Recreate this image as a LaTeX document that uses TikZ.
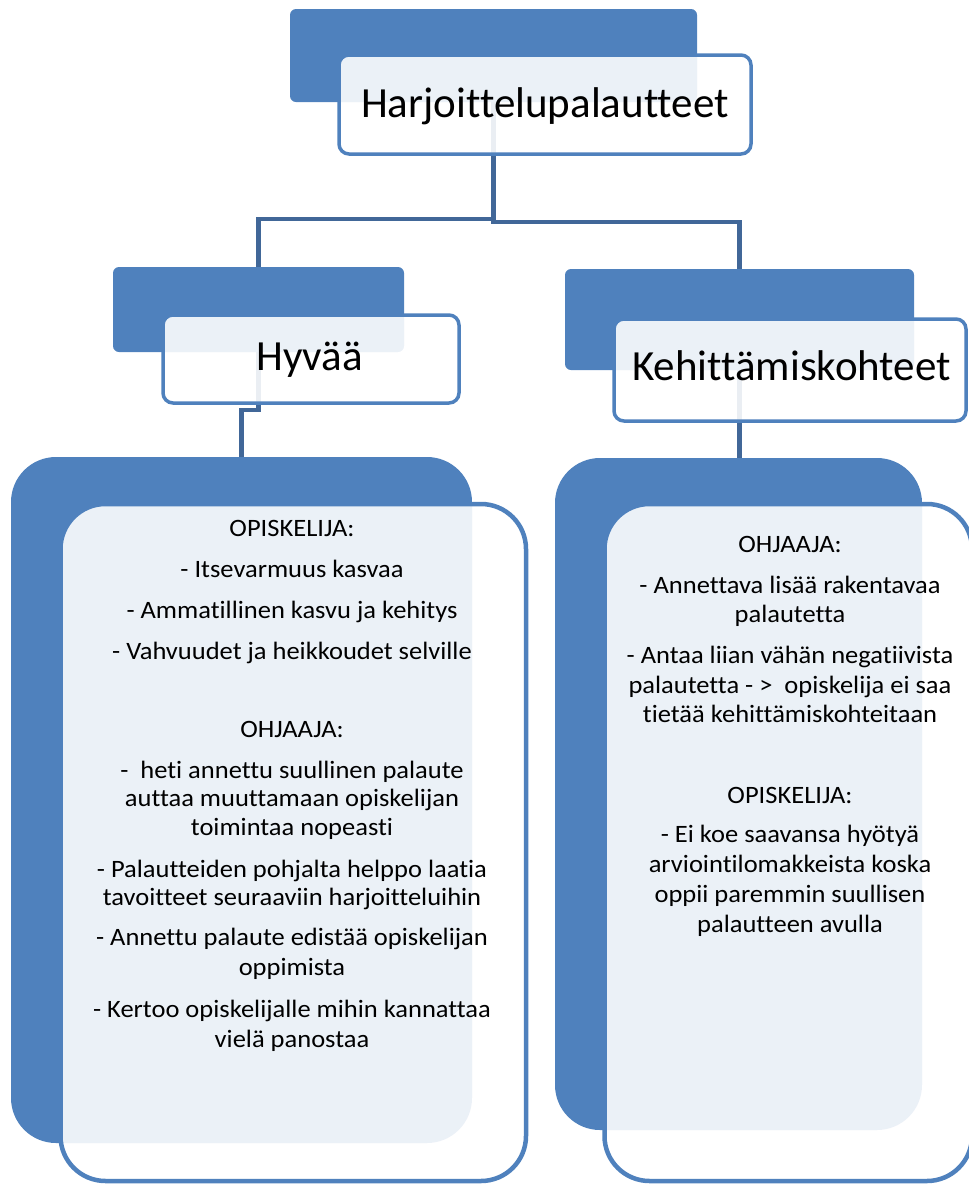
\documentclass[tikz,border=0pt]{standalone}
\usepackage{fontspec}
\setmainfont{Carlito}[Ligatures=NoCommon]
\newfontfamily\bodyfont{Carlito}[Ligatures=NoCommon, FakeStretch=1.06]
\definecolor{accent}{RGB}{79,129,189}
\definecolor{linkcol}{RGB}{65,103,152}
\begin{document}
\begin{tikzpicture}[x=1pt,y=-1pt,
  backbox/.style={draw=none, fill=accent, rectangle, inner sep=0pt},
  frontbox/.style={draw=accent, fill=white, fill opacity=0.89, draw opacity=1, rectangle, inner sep=0pt},
  linkline/.style={draw=linkcol, line width=4.5pt},
  bodytext/.style={font=\bodyfont\fontsize{25}{30}\selectfont, anchor=base, inner sep=0pt},
  headtext/.style={anchor=base, inner sep=0pt, font=\fontsize{43}{50}\selectfont},
  ]
\useasboundingbox (0,0) rectangle (969,1184);
\clip (0,0) rectangle (969,1184);
% back boxes
\node[backbox, minimum width=407pt, minimum height=93pt, rounded corners=6pt] (topback) at (493.5,55.5) {};
\node[backbox, minimum width=291pt, minimum height=85pt, rounded corners=6pt] (hyback) at (258.5,309.5) {};
\node[backbox, minimum width=349pt, minimum height=101pt, rounded corners=6pt] (kback) at (739.5,319.5) {};
\node[backbox, minimum width=461pt, minimum height=686pt, rounded corners=45pt] (leftback) at (241.5,800) {};
\node[backbox, minimum width=367pt, minimum height=672pt, rounded corners=45pt] (rightback) at (738.5,794) {};
% connectors
\draw[linkline] (topback.south) -- ++(0,117) -| (hyback.north);
\draw[linkline] (topback.south) -- ++(0,120) -| (kback.north);
\draw[linkline] (hyback.south) -- ++(0,58) -| (leftback.north);
\draw[linkline] (kback.south) -- (kback.south |- rightback.north);
% front boxes
\node[frontbox, line width=3.5pt, minimum width=412pt, minimum height=99pt, rounded corners=10pt] (topfront) at (545,104.5) {};
\node[frontbox, line width=3.5pt, minimum width=296pt, minimum height=88pt, rounded corners=10pt] (hyfront) at (311,359) {};
\node[frontbox, line width=3.5pt, minimum width=352pt, minimum height=102pt, rounded corners=10pt] (kfront) at (790,370) {};
\node[frontbox, line width=4.5pt, minimum width=465.5pt, minimum height=677pt, rounded corners=45pt] (leftfront) at (293.25,842.5) {};
\node[frontbox, line width=4.5pt, minimum width=367.5pt, minimum height=677pt, rounded corners=45pt] (rightfront) at (788.25,842.5) {};
% header texts
\node[headtext] (toptext) at (545,117) {Harjoittelupalautteet};
\node[headtext] (hytext) at (309.5,370) {Hyvää};
\node[headtext] (ktext) at (791.5,380) {Kehittämiskohteet};
% body texts
\foreach \yy/\txt [count=\i] in {
  536/OPISKELIJA:,
  577/- Itsevarmuus kasvaa,
  618/- Ammatillinen kasvu ja kehitys,
  659/- Vahvuudet ja heikkoudet selville,
  737/OHJAAJA:,
  778/-~ heti annettu suullinen palaute,
  806/auttaa muuttamaan opiskelijan,
  835/toimintaa nopeasti,
  877/- Palautteiden pohjalta helppo laatia,
  905/tavoitteet seuraaviin harjoitteluihin,
  945/- Annettu palaute edistää opiskelijan,
  975/oppimista,
  1017/- Kertoo opiskelijalle mihin kannattaa,
  1047/vielä panostaa}
  \node[bodytext] (L\i) at (292,\yy) {\txt};
\foreach \yy/\txt [count=\i] in {
  552/OHJAAJA:,
  593/- Annettava lisää rakentavaa,
  622/palautetta,
  663/- Antaa liian vähän negatiivista,
  693/palautetta - >~ opiskelija ei saa,
  722/tietää kehittämiskohteitaan,
  803/OPISKELIJA:,
  842/- Ei koe saavansa hyötyä,
  872/arviointilomakkeista koska,
  902/oppii paremmin suullisen,
  932/palautteen avulla}
  \node[bodytext] (R\i) at (790,\yy) {\txt};
\end{tikzpicture}
\end{document}
